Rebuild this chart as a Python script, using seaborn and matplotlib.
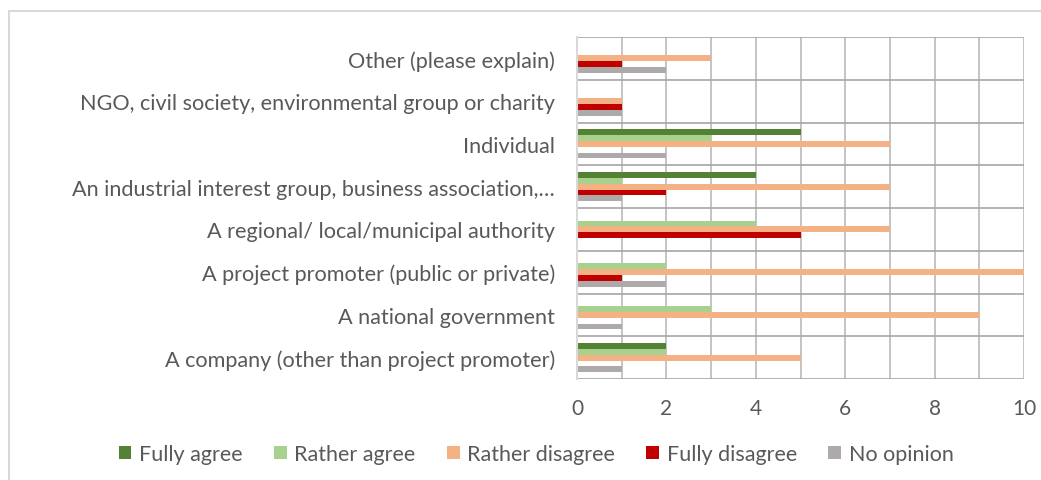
import matplotlib
matplotlib.use("Agg")
import matplotlib.pyplot as plt
import seaborn as sns
import pandas as pd
from matplotlib.patches import Rectangle
from matplotlib.ticker import MultipleLocator, FixedLocator

categories = [
    "Other (please explain)",
    "NGO, civil society, environmental group or charity",
    "Individual",
    "An industrial interest group, business association,…",
    "A regional/ local/municipal authority",
    "A project promoter (public or private)",
    "A national government",
    "A company (other than project promoter)",
]
series = ["Fully agree", "Rather agree", "Rather disagree", "Fully disagree", "No opinion"]
fully_agree     = [0, 0, 5, 4, 0, 0, 0, 2]
rather_agree    = [0, 0, 3, 1, 4, 2, 3, 2]
rather_disagree = [3, 1, 7, 7, 7, 10, 9, 5]
fully_disagree  = [1, 1, 0, 2, 5, 1, 0, 0]
no_opinion      = [2, 1, 2, 1, 0, 2, 1, 1]
colors = ["#548235", "#A9D18E", "#F4B183", "#C00000", "#AEAAAA"]

values = [fully_agree, rather_agree, rather_disagree, fully_disagree, no_opinion]
rows = []
for s, vals in zip(series, values):
    for c, v in zip(categories, vals):
        rows.append({"category": c, "series": s, "value": v})
df = pd.DataFrame(rows)

sns.set_style("white")
plt.rcParams["font.family"] = ["Lato", "DejaVu Sans"]
text_color = "#595959"

fig = plt.figure(figsize=(10.41, 4.81), dpi=100)
W, H = 1041, 481
# chart border
fig.patches.append(Rectangle((9 / W, -0.1), 1.2, 1 - 12 / H + 0.1, transform=fig.transFigure,
                             fill=False, edgecolor="#D9D9D9", linewidth=1.5))
ax = fig.add_axes([577 / W, 1 - 380 / H, (1024 - 577) / W, (380 - 38) / H])

sns.barplot(data=df, x="value", y="category", hue="series", order=categories,
            hue_order=series, palette=colors, width=0.68, linewidth=0,
            saturation=1, ax=ax, legend=True, orient="h")

ax.set_xlim(0, 10)
ax.set_ylim(len(categories) - 0.5, -0.5)
ax.xaxis.set_major_locator(MultipleLocator(2))
ax.xaxis.set_minor_locator(MultipleLocator(1))
ax.grid(axis="x", which="both", color="#BFBFBF", linewidth=1.3)
ax.yaxis.set_minor_locator(FixedLocator([i + 0.5 for i in range(-1, len(categories))]))
ax.grid(axis="y", which="minor", color="#A6A6A6", linewidth=1.2)
ax.grid(axis="y", which="major", visible=False)
ax.set_axisbelow(True)
for side in ["top", "right", "bottom"]:
    ax.spines[side].set_visible(False)
ax.spines["left"].set_color("#D9D9D9")
ax.spines["left"].set_linewidth(1.5)
ax.tick_params(axis="y", which="major", length=0, pad=16, labelsize=15.6, labelcolor=text_color)
ax.tick_params(axis="y", which="minor", length=7, color="#D9D9D9", width=1.5)
ax.tick_params(axis="x", which="both", length=0, pad=14, labelsize=15, labelcolor=text_color)
ax.set_xlabel("")
ax.set_ylabel("")

handles, labels = ax.get_legend_handles_labels()
ax.legend(handles, labels, loc="center", ncol=5, frameon=False, fontsize=15.5,
          handlelength=0.6, handleheight=0.6, handletextpad=0.35, columnspacing=1.45,
          labelcolor=text_color)
ax.get_legend().set_bbox_to_anchor((536 / W, 1 - 455 / H), transform=fig.transFigure)

fig.savefig("out.png", dpi=100)
